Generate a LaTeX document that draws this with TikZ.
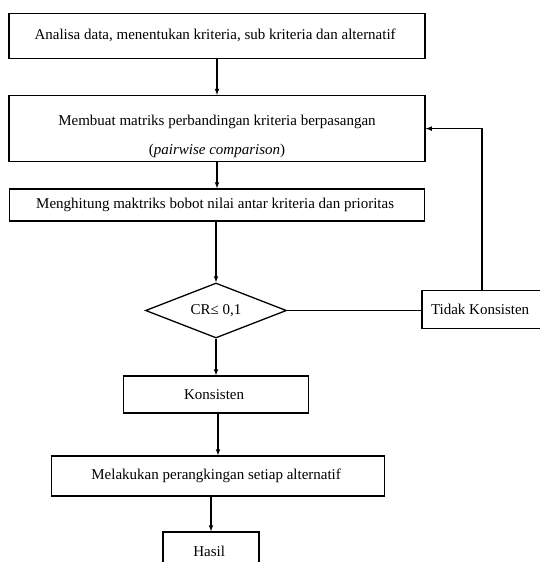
\documentclass[tikz,border=0pt]{standalone}
\usepackage{fontspec}
\setmainfont{Liberation Serif}
\usepackage{tikz}
\usetikzlibrary{arrows,shapes}
\tikzset{
  kotak/.style={draw,rectangle,line width=1.3pt,inner sep=0pt,align=center,font=\fontsize{15}{17}\selectfont},
  belah/.style={draw,diamond,aspect=2.5,line width=1.3pt,inner sep=0pt,font=\fontsize{15}{17}\selectfont},
  panah/.style={->,>=latex,line width=1.1pt}
}

\begin{document}
\begin{tikzpicture}[x=1pt,y=-1pt]
    \useasboundingbox (0,0) rectangle (539,562);
    % langkah-langkah
    \node (analisa) at (217,35.7) [kotak,minimum width=416,minimum height=45]{
      Analisa data, menentukan kriteria, sub kriteria dan alternatif
    };
    \node (matriks) at (217,128.6) [kotak,minimum width=416,minimum height=66]{
      \rule{0pt}{25pt}Membuat matriks perbandingan kriteria berpasangan\\[12pt]
      (\textit{pairwise comparison})
    };
    \node (bobot) at (217,205) [kotak,minimum width=415,minimum height=32]{
      Menghitung maktriks bobot nilai antar kriteria dan prioritas
    };
    \node (cr) at (216,310.5) [belah,minimum width=141,minimum height=55]{
      CR≤ 0,1
    };
    \node (tidak) at (482,309.5) [kotak,minimum width=120,minimum height=38]{
      Tidak Konsisten
    };
    \node (konsisten) at (216,394.5) [kotak,minimum width=185,minimum height=37]{
      Konsisten
    };
    \node (ranking) at (218,476) [kotak,minimum width=333,minimum height=40]{
      Melakukan perangkingan setiap alternatif
    };
    \node (hasil) at (211,551) [kotak,minimum width=96,minimum height=38]{
      Hasil
    };

    % penghubung
    \draw[panah] (analisa.south -| matriks.north) -- (matriks.north);
    \draw[panah] (matriks.south -| bobot.north) -- (bobot.north);
    \draw[panah] (bobot.south -| cr.north) -- (cr.north);
    \draw[panah] (cr.south -| konsisten.north) -- (konsisten.north);
    \draw[panah] (konsisten.south -| ranking.north) -- (ranking.north);
    \draw[panah] (ranking.south -| hasil.north) -- (hasil.north);
    \draw[line width=1.1pt] (cr.east) -- (cr.east -| tidak.west);
    \draw[panah] (tidak.north) |- (matriks.east);
  \end{tikzpicture}
\end{document}
